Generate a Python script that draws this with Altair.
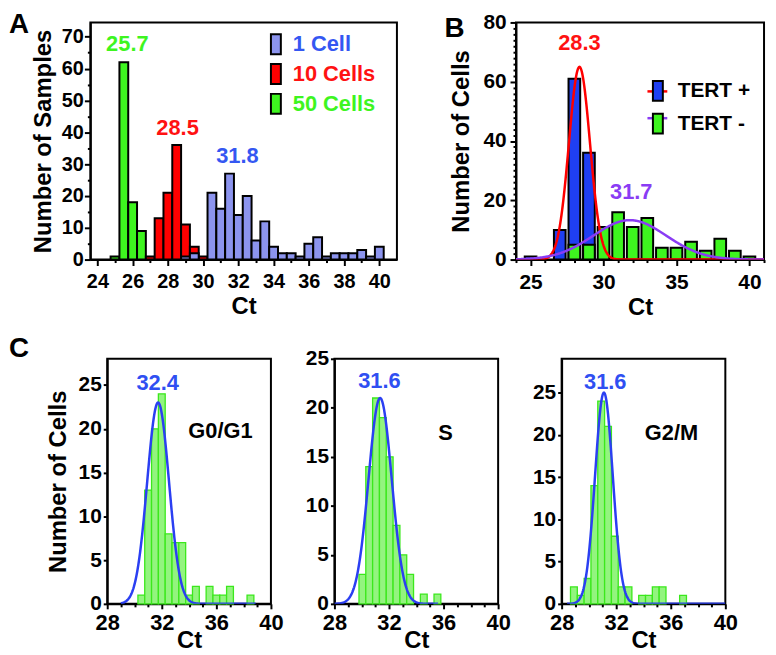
import altair as alt
import pandas as pd

FONT = "Liberation Sans"

# ---------------- Panel A : 1 / 10 / 50 cells ----------------
a_groups = ["1 Cell", "10 Cells", "50 Cells"]
a_bar_colors = ["#8c94ee", "#ff0000", "#3ef51f"]
a_text_colors = ["#3457f2", "#ff1212", "#3ef51f"]
a_ct_50 = [25.0, 25.5, 26.0, 26.5]
a_n_50 = [1, 62, 18, 9]
a_ct_10 = [27.0, 27.5, 28.0, 28.5, 29.0, 29.5, 30.0]
a_n_10 = [1, 13, 21, 36, 11, 4, 1]
a_ct_1 = [29.0, 29.5, 30.5, 31.0, 31.5, 32.0, 32.5, 33.0, 33.5, 34.0, 34.5,
          35.0, 35.5, 36.0, 36.5, 37.0, 37.5, 38.0, 38.5, 39.0, 39.5, 40.0]
a_n_1 = [1, 2, 21, 16, 27, 14, 20, 6, 12, 4, 2, 2, 1, 5, 7, 1, 2, 2, 2, 3, 1, 4]
a_bin_width = 0.5
a_x_major = [24, 26, 28, 30, 32, 34, 36, 38, 40]
a_x_minor = [25, 27, 29, 31, 33, 35, 37, 39]
a_y_major = [0, 10, 20, 30, 40, 50, 60, 70]
a_y_minor = [5, 15, 25, 35, 45, 55, 65]
a_peak_labels = ["25.7", "28.5", "31.8"]
a_peak_x = [25.7, 28.55, 31.95]
a_peak_y = [67.8, 41.4, 32.5]
a_peak_colors = ["#3ef51f", "#ff1212", "#3457f2"]

# ---------------- Panel B : TERT + / TERT - ----------------
b_groups = ["TERT +", "TERT -"]
b_fit_groups = ["TERT + fit", "TERT - fit"]
b_bar_colors = ["#1f3ff2", "#3ef51f"]
b_fit_colors = ["#ff0000", "#8a3cf4"]
b_ct_pos = [25, 27, 28, 29]
b_n_pos = [1, 10, 61, 36]
b_ct_neg = [28, 29, 30, 31, 32, 33, 34, 35, 36, 37, 38, 39, 40]
b_n_neg = [5, 5, 11, 16, 11, 14, 4, 4, 6, 3, 7, 3, 1]
b_bar_width = 0.8
b_x_major = [25, 30, 35, 40]
b_x_minor = [24, 26, 27, 28, 29, 31, 32, 33, 34, 36, 37, 38, 39, 41]
b_y_major = [0, 20, 40, 60, 80]
b_y_minor = [2, 4, 6, 8, 10, 12, 14, 16, 18, 22, 24, 26, 28, 30, 32, 34, 36, 38,
             42, 44, 46, 48, 50, 52, 54, 56, 58, 62, 64, 66, 68, 70, 72, 74, 76, 78]
b_fit_mu = [28.35, 31.8]
b_fit_sd = [0.72, 2.5]
b_fit_amp = [65, 13.3]
b_fit_lo = [24, 24]
b_fit_hi = [41, 41]
b_peak_labels = ["28.3", "31.7"]
b_peak_x = [28.35, 31.9]
b_peak_y = [72.9, 22.8]
b_peak_colors = ["#ff1212", "#8a3cf4"]

# ---------------- Panel C : cell-cycle phases ----------------
c_phases = ["G0/G1", "S", "G2/M"]
c1_ct = [30.5, 31.0, 31.5, 32.0, 32.5, 33.0, 33.5, 34.0, 34.5, 35.5, 36.0, 36.5, 37.0, 38.5]
c1_n = [1, 13, 20, 24, 8, 7, 7, 1, 2, 2, 1, 1, 2, 1]
c2_ct = [30.05, 30.55, 31.05, 31.55, 32.05, 32.55, 33.05, 33.55, 34.55, 35.55]
c2_n = [3, 14, 21, 19, 15, 8, 5, 3, 1, 1]
c3_ct = [28.9, 29.4, 29.9, 30.4, 30.9, 31.4, 31.9, 32.4, 32.9, 33.9, 34.4, 34.9, 35.4, 36.9]
c3_n = [2, 1, 3, 14, 24, 21, 8, 2, 2, 1, 1, 2, 2, 1]
c_bin_width = 0.5
c_x_major = [28, 32, 36, 40]
c_x_minor = [29, 30, 31, 33, 34, 35, 37, 38, 39]
c_y_major = [0, 5, 10, 15, 20, 25]
c_ymax = [28, 25, 29]
c_fit_mu = [31.73, 31.35, 31.1]
c_fit_sd = [0.8, 0.85, 0.65]
c_fit_amp = [23, 21, 25]
c_fit_lo = [29.0, 28.0, 28.4]
c_fit_hi = [38.9, 35.6, 40.0]
c_peak_labels = ["32.4", "31.6", "31.6"]
c_peak_x = [31.7, 31.3, 31.2]
c_peak_y = [25.2, 22.7, 26.3]
c_phase_x = [36.3, 36.15, 36.05]
c_phase_y = [19.8, 17.4, 20.2]
c_text_color = "#2f4ff2"
c_fill = "#93f47f"
c_stroke = "#3be81c"
c_line = "#2b3ff2"

RECT_PATH = "M-0.5,-1H0.5V1H-0.5Z"


def major_axis(values, title, tick, pad, size, title_pad):
    return alt.Axis(values=values, tickSize=tick, labelPadding=pad, labelFontSize=size,
                    title=title, titlePadding=title_pad, labelOverlap=False, labelFlush=False)


def minor_axis(values, orient):
    return alt.Axis(values=values, tickSize=3, labels=False, domain=False, title=None,
                    orient=orient, grid=False)


def panel_label(text, px, py):
    return alt.Chart(pd.DataFrame({"t": [text]})).mark_text(
        align="left", baseline="top", font=FONT, fontWeight="bold", fontSize=28, color="black"
    ).encode(x=alt.value(px), y=alt.value(py), text="t:N")


def fit_chart(mu, sd, amp, lo, hi, grp):
    df = pd.DataFrame({"fitgrp": grp, "mu": mu, "sd": sd, "amp": amp, "lo": lo, "hi": hi})
    return (alt.Chart(df)
            .transform_calculate(cx="sequence(datum.lo, datum.hi + 0.001, 0.04)")
            .transform_flatten(["cx"])
            .transform_calculate(fy="datum.amp * exp(-pow(datum.cx - datum.mu, 2) / (2 * datum.sd * datum.sd))"))


def text_layer(xs, ys, labels, colors, xscale, yscale, size=22):
    df = pd.DataFrame({"x": xs, "y": ys, "t": labels, "c": colors})
    return alt.Chart(df).mark_text(font=FONT, fontWeight="bold", fontSize=size, baseline="middle").encode(
        x=alt.X("x:Q", scale=xscale, axis=None),
        y=alt.Y("y:Q", scale=yscale, axis=None),
        text="t:N",
        color=alt.Color("c:N", scale=None),
    )


def minor_layer(df, xscale, yscale, xminor, yminor):
    return alt.Chart(df).mark_point(opacity=0).encode(
        x=alt.X("lo:Q", scale=xscale, axis=minor_axis(xminor, "bottom")),
        y=alt.Y("n:Q", scale=yscale, axis=minor_axis(yminor, "left") if yminor else None),
    )


# ---------- Panel A chart ----------
rows_a = []
for grp, cts, ns in [("50 Cells", a_ct_50, a_n_50), ("10 Cells", a_ct_10, a_n_10), ("1 Cell", a_ct_1, a_n_1)]:
    for c, v in zip(cts, ns):
        rows_a.append({"grp": grp, "lo": c - a_bin_width / 2, "hi": c + a_bin_width / 2, "n": v})
df_a = pd.DataFrame(rows_a)

a_x = alt.Scale(domain=[23.6, 41], nice=False, zero=False)
a_y = alt.Scale(domain=[0, 74.5], nice=False)
a_label_expr = " : ".join(f"datum.label == '{g}' ? '{c}'" for g, c in zip(a_groups, a_text_colors)) + " : 'black'"

a_bars = alt.Chart(df_a).mark_bar(stroke="black", strokeWidth=2).encode(
    x=alt.X("lo:Q", scale=a_x, axis=major_axis(a_x_major, "Ct", 6, 6, 20, 3)),
    x2="hi:Q",
    y=alt.Y("n:Q", scale=a_y, stack=None, axis=major_axis(a_y_major, "Number of Samples", 6, 1, 20, 6)),
    y2=alt.datum(0),
    fill=alt.Fill("grp:N", scale=alt.Scale(domain=a_groups, range=a_bar_colors),
                  legend=alt.Legend(title=None, orient="none", legendX=176, legendY=11,
                                    symbolType=RECT_PATH, symbolSize=400, symbolStrokeColor="black",
                                    symbolStrokeWidth=2, labelFont=FONT, labelFontSize=22,
                                    labelFontWeight="bold", labelColor={"expr": a_label_expr},
                                    rowPadding=2, labelOffset=6, padding=0)),
)
a_text = text_layer(a_peak_x, a_peak_y, a_peak_labels, a_peak_colors, a_x, a_y)
panel_a = (alt.layer(a_bars, minor_layer(df_a, a_x, a_y, a_x_minor, a_y_minor), a_text,
                     panel_label("A", -82, -11))
           .resolve_axis(x="independent", y="independent")
           .properties(width=309, height=239))

# ---------- Panel B chart ----------
rows_b = []
for grp, cts, ns in [("TERT +", b_ct_pos, b_n_pos), ("TERT -", b_ct_neg, b_n_neg)]:
    for c, v in zip(cts, ns):
        rows_b.append({"grp": grp, "lo": c - b_bar_width / 2, "hi": c + b_bar_width / 2, "n": v})
df_b = pd.DataFrame(rows_b)

b_x = alt.Scale(domain=[24, 41], nice=False, zero=False)
b_y = alt.Scale(domain=[0, 80], nice=False)

b_bars = alt.Chart(df_b).mark_bar(stroke="black", strokeWidth=2).encode(
    x=alt.X("lo:Q", scale=b_x, axis=major_axis(b_x_major, "Ct", 6, 6, 21, 3)),
    x2="hi:Q",
    y=alt.Y("n:Q", scale=b_y, stack=None, axis=major_axis(b_y_major, "Number of Cells", 6, 4, 21, 9)),
    y2=alt.datum(0),
    fill=alt.Fill("grp:N", scale=alt.Scale(domain=b_groups, range=b_bar_colors),
                  legend=alt.Legend(title=None, orient="none", legendX=132, legendY=58,
                                    symbolType=RECT_PATH, symbolSize=400, symbolStrokeColor="black",
                                    symbolStrokeWidth=2, labelFont=FONT, labelFontSize=21,
                                    labelFontWeight="bold", labelColor="black",
                                    rowPadding=5, labelOffset=9, padding=0, zindex=2)),
)
b_fit = fit_chart(b_fit_mu, b_fit_sd, b_fit_amp, b_fit_lo, b_fit_hi, b_fit_groups).mark_line(
    strokeWidth=2.5, clip=True).encode(
    x=alt.X("cx:Q", scale=b_x, axis=None),
    y=alt.Y("fy:Q", scale=b_y, axis=None),
    stroke=alt.Stroke("fitgrp:N", scale=alt.Scale(domain=b_fit_groups, range=b_fit_colors),
                      legend=alt.Legend(title=None, orient="none", legendX=131, legendY=58,
                                        symbolType="stroke", symbolSize=400, symbolStrokeWidth=2.5,
                                        labelExpr="''", labelFontSize=21,
                                        rowPadding=5, labelOffset=0, padding=0, zindex=1)),
)
b_text = text_layer(b_peak_x, b_peak_y, b_peak_labels, b_peak_colors, b_x, b_y)
panel_b = (alt.layer(b_bars, minor_layer(df_b, b_x, b_y, b_x_minor, b_y_minor), b_fit, b_text,
                     panel_label("B", -72, -7))
           .resolve_axis(x="independent", y="independent")
           .properties(width=250, height=239))

# ---------- Panel C charts ----------
c_cts = [c1_ct, c2_ct, c3_ct]
c_ns = [c1_n, c2_n, c3_n]
c_charts = []
for i in range(3):
    df_c = pd.DataFrame({"lo": [c - c_bin_width / 2 for c in c_cts[i]],
                         "hi": [c + c_bin_width / 2 for c in c_cts[i]],
                         "n": c_ns[i]})
    cx = alt.Scale(domain=[28, 40], nice=False, zero=False)
    cy = alt.Scale(domain=[0, c_ymax[i]], nice=False)
    bars = alt.Chart(df_c).mark_bar(fill=c_fill, stroke=c_stroke, strokeWidth=1.3).encode(
        x=alt.X("lo:Q", scale=cx, axis=major_axis(c_x_major, "Ct", 5, 4, 22, -5)),
        x2="hi:Q",
        y=alt.Y("n:Q", scale=cy, stack=None,
                axis=major_axis(c_y_major, "Number of Cells" if i == 0 else None, 4, 2, 21, 8)),
        y2=alt.datum(0),
    )
    fit = fit_chart([c_fit_mu[i]], [c_fit_sd[i]], [c_fit_amp[i]], [c_fit_lo[i]], [c_fit_hi[i]],
                    [c_phases[i]]).mark_line(strokeWidth=2.5, color=c_line, clip=True).encode(
        x=alt.X("cx:Q", scale=cx, axis=None),
        y=alt.Y("fy:Q", scale=cy, axis=None),
    )
    txt = text_layer([c_peak_x[i], c_phase_x[i]], [c_peak_y[i], c_phase_y[i]],
                     [c_peak_labels[i], c_phases[i]], [c_text_color, "black"], cx, cy)
    layers = [bars, minor_layer(df_c, cx, cy, c_x_minor, None), fit, txt]
    if i == 0:
        layers.append(panel_label("C", -99, -24))
    c_charts.append(alt.layer(*layers)
                    .resolve_axis(x="independent", y="independent")
                    .properties(width=165, height=247))

spacer = alt.Chart(pd.DataFrame({"v": [0]})).mark_point(opacity=0).encode(
    x=alt.X("v:Q", axis=None), y=alt.Y("v:Q", axis=None)
).properties(width=17, height=1, view=alt.ViewBackground(stroke="transparent"))

row1 = alt.hconcat(panel_a, panel_b, spacing=120, bounds="flush").resolve_scale(
    fill="independent", stroke="independent", color="independent").resolve_legend(
    fill="independent", stroke="independent")
c_group = alt.hconcat(*c_charts, spacing=64, bounds="flush")
row2 = alt.hconcat(spacer, c_group, spacing=0, bounds="flush")

chart = alt.vconcat(row1, row2, spacing=14).resolve_scale(
    fill="independent", stroke="independent", color="independent").resolve_legend(
    fill="independent", stroke="independent").properties(
    padding={"left": 0, "top": 0, "right": 2, "bottom": 0}
).configure_axis(
    domainColor="black", domainWidth=2, tickColor="black", tickWidth=2,
    labelColor="black", labelFont=FONT, labelFontWeight="bold",
    titleColor="black", titleFont=FONT, titleFontWeight="bold", titleFontSize=24,
    grid=False,
).configure_view(stroke="black", strokeWidth=2)

chart.save("out.html", embed_options={"renderer": "svg", "actions": False})
